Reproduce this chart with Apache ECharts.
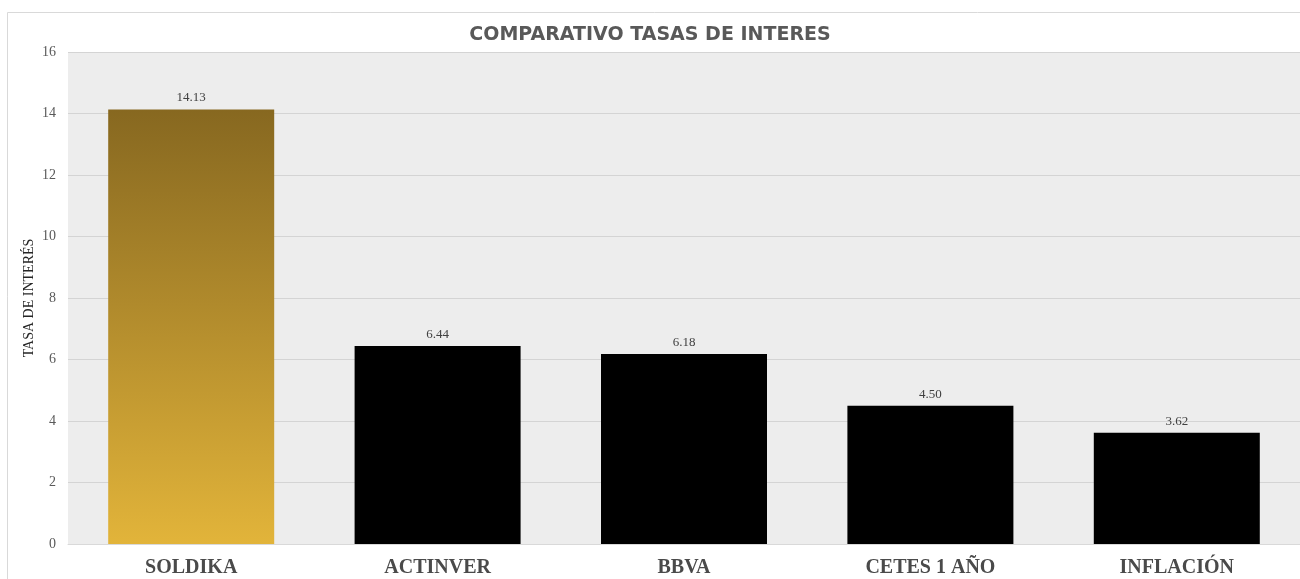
<!DOCTYPE html>
<html>
<head>
<meta charset="utf-8">
<script src="https://cdn.jsdelivr.net/npm/echarts@6/dist/echarts.min.js"></script>
<style>
  html, body { margin: 0; padding: 0; background: #fff; }
  #chart { width: 1300px; height: 579px; }
</style>
</head>
<body>
<div id="chart"></div>
<script>
// data
const categories = ['SOLDIKA', 'ACTINVER', 'BBVA', 'CETES 1 AÑO', 'INFLACIÓN'];
const rates = [14.13, 6.44, 6.18, 4.50, 3.62];
const yTicks = [0, 2, 4, 6, 8, 10, 12, 14, 16];

const gold = new echarts.graphic.LinearGradient(0, 0, 0, 1, [
    {offset: 0, color: '#876820'},
    {offset: 0.45, color: '#b08a2c'},
    {offset: 1, color: '#e2b43a'}
]);

const chart = echarts.init(document.getElementById('chart'));

const opt = {
    animation: false,
    backgroundColor: '#ffffff',
    title: {
        text: 'COMPARATIVO TASAS DE INTERES',
        left: 'center',
        top: 21,
        textStyle: {
            fontFamily: 'DejaVu Sans',
            fontWeight: 'bold',
            fontSize: 19,
            color: '#595959'
        }
    },
    graphic: [{
        type: 'rect',
        shape: {x: 7.5, y: 12.5, width: 1320, height: 620},
        style: {fill: 'none', stroke: '#d9d9d9', lineWidth: 1},
        silent: true,
        z: -1
    }],
    grid: {
        left: 68,
        right: 0,
        top: 52,
        bottom: 35,
        show: true,
        backgroundColor: '#ededed',
        borderWidth: 0
    },
    xAxis: {
        type: 'category',
        data: categories,
        axisTick: {show: false},
        axisLine: {lineStyle: {color: '#d9d9d9'}},
        axisLabel: {
            margin: 14,
            fontFamily: 'Liberation Serif',
            fontWeight: 'bold',
            fontSize: 20,
            color: '#4a4a4a'
        }
    },
    yAxis: {
        type: 'value',
        min: yTicks[0],
        max: yTicks[yTicks.length - 1],
        interval: 2,
        name: 'TASA DE INTERÉS',
        nameLocation: 'middle',
        nameGap: 32,
        nameMoveOverlap: false,
        nameTextStyle: {
            fontFamily: 'Liberation Serif',
            fontSize: 14,
            color: '#262626'
        },
        axisLabel: {
            margin: 12,
            fontFamily: 'Liberation Serif',
            fontSize: 14,
            color: '#595959'
        },
        splitLine: {lineStyle: {color: '#d4d4d4', width: 1}}
    },
    series: [{
        type: 'bar',
        data: rates.map((v, i) => ({
            value: v,
            itemStyle: {color: i === 0 ? gold : '#000000'}
        })),
        barWidth: 166,
        label: {
            show: true,
            position: 'top',
            distance: 5,
            formatter: p => p.value.toFixed(2),
            fontFamily: 'Liberation Serif',
            fontSize: 13,
            color: '#404040'
        }
    }]
};

chart.setOption(opt);
</script>
</body>
</html>
